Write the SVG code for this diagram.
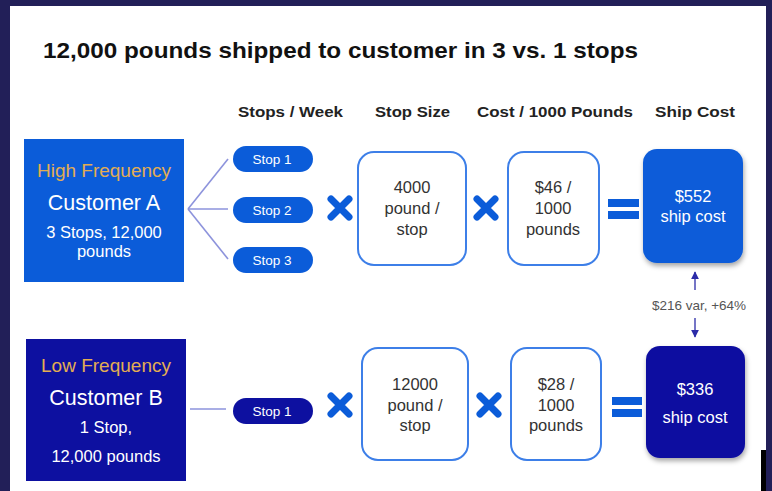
<svg xmlns="http://www.w3.org/2000/svg" width="772" height="491" viewBox="0 0 772 491">
<style>
  text { font-family: "Liberation Sans", Arial, sans-serif; }
  .title { font-size: 22px; font-weight: bold; fill: #111; }
  .hdr { font-size: 15.5px; font-weight: bold; fill: #222; text-anchor: middle; }
  .freq { font-size: 19px; fill: #e3ad52; text-anchor: middle; }
  .cust { font-size: 21.5px; fill: #fff; text-anchor: middle; }
  .sub { font-size: 16.5px; fill: #fff; text-anchor: middle; }
  .pill { font-size: 13.5px; fill: #fff; text-anchor: middle; }
  .val { font-size: 16.5px; fill: #333; text-anchor: middle; }
  .ship { font-size: 16.5px; fill: #fff; text-anchor: middle; }
  .var { font-size: 13.5px; fill: #555; text-anchor: middle; }
  .box { fill: #fff; stroke: #3d7fe8; stroke-width: 2; }
  .blue { fill: #0b5cd9; }
  .navy { fill: #0d10a0; }
  .xm { stroke: #0b5cd9; stroke-width: 7; stroke-linecap: round; fill: none; }
  .eq { fill: #0b5cd9; }
  .conn { stroke: #8d93dc; stroke-width: 1.6; fill: none; }
  .arr { stroke: #2b2ba8; stroke-width: 1.3; fill: none; }
</style>
<defs>
  <marker id="ah" viewBox="0 0 10 10" refX="9" refY="5" markerWidth="6" markerHeight="6" orient="auto-start-reverse">
    <path d="M0,0 L10,5 L0,10 z" fill="#2b2ba8"/>
  </marker>
  <filter id="sh" x="-20%" y="-20%" width="140%" height="140%">
    <feDropShadow dx="1" dy="3" stdDeviation="2.5" flood-color="#000" flood-opacity="0.35"/>
  </filter>
</defs>

<!-- background frame -->
<rect x="0" y="0" width="772" height="491" fill="#221f58"/>
<rect x="10" y="6" width="756" height="485" fill="#ffffff"/>
<rect x="761" y="450" width="5" height="41" fill="#000"/>

<text class="title" x="43" y="58" textLength="595" lengthAdjust="spacingAndGlyphs">12,000 pounds shipped to customer in 3 vs. 1 stops</text>

<g id="headers">
  <text class="hdr" x="290.5" y="117" textLength="105" lengthAdjust="spacingAndGlyphs">Stops / Week</text>
  <text class="hdr" x="412.5" y="117" textLength="75" lengthAdjust="spacingAndGlyphs">Stop Size</text>
  <text class="hdr" x="555" y="117" textLength="156" lengthAdjust="spacingAndGlyphs">Cost / 1000 Pounds</text>
  <text class="hdr" x="695" y="117" textLength="80" lengthAdjust="spacingAndGlyphs">Ship Cost</text>
</g>

<g id="connectors">
  <path class="conn" d="M188,209 L228,159"/>
  <path class="conn" d="M188,209 L228,209"/>
  <path class="conn" d="M188,209 L228,259"/>
  <path class="conn" d="M190,409 L226,409"/>
  <path class="arr" d="M695,290 L695,272" marker-end="url(#ah)"/>
  <path class="arr" d="M695,318 L695,337" marker-end="url(#ah)"/>
</g>

<g id="customerA">
  <rect class="blue" x="24" y="139" width="160" height="143"/>
  <text class="freq" x="104" y="177">High Frequency</text>
  <text class="cust" x="104" y="210">Customer A</text>
  <text class="sub" x="104" y="238">3 Stops, 12,000</text>
  <text class="sub" x="104" y="257">pounds</text>
</g>

<g id="stopA1"><rect class="blue" x="233" y="146" width="80" height="26" rx="13"/><text class="pill" x="272" y="164">Stop 1</text></g>
<g id="stopA2"><rect class="blue" x="233" y="197" width="80" height="26" rx="13"/><text class="pill" x="272" y="215">Stop 2</text></g>
<g id="stopA3"><rect class="blue" x="233" y="247" width="80" height="26" rx="13"/><text class="pill" x="272" y="265">Stop 3</text></g>

<g id="timesA1"><path class="xm" d="M331,199 L349,217 M349,199 L331,217"/></g>

<g id="sizeA">
  <rect class="box" x="358" y="152" width="108" height="113" rx="16"/>
  <text class="val" x="412" y="193">4000</text>
  <text class="val" x="412" y="214">pound /</text>
  <text class="val" x="412" y="235">stop</text>
</g>

<g id="timesA2"><path class="xm" d="M477,199 L495,217 M495,199 L477,217"/></g>

<g id="costA">
  <rect class="box" x="508" y="152" width="91" height="113" rx="16"/>
  <text class="val" x="553" y="193">$46 /</text>
  <text class="val" x="553" y="214">1000</text>
  <text class="val" x="553" y="235">pounds</text>
</g>

<g id="equalsA">
  <rect class="eq" x="608" y="199" width="31" height="8"/>
  <rect class="eq" x="608" y="211" width="31" height="8"/>
</g>

<g id="shipA">
  <rect class="blue" x="643" y="149" width="100" height="114" rx="14" filter="url(#sh)"/>
  <text class="ship" x="693" y="202">$552</text>
  <text class="ship" x="693" y="222">ship cost</text>
</g>

<g id="variance">
  <text class="var" x="699" y="310">$216 var, +64%</text>
</g>

<g id="customerB">
  <rect class="navy" x="26" y="339" width="160" height="142"/>
  <text class="freq" x="106" y="372">Low Frequency</text>
  <text class="cust" x="106" y="405">Customer B</text>
  <text class="sub" x="106" y="433">1 Stop,</text>
  <text class="sub" x="106" y="462">12,000 pounds</text>
</g>

<g id="stopB1"><rect class="navy" x="233" y="398" width="80" height="26" rx="13"/><text class="pill" x="272" y="416">Stop 1</text></g>

<g id="timesB1"><path class="xm" d="M331,396 L349,414 M349,396 L331,414"/></g>

<g id="sizeB">
  <rect class="box" x="362" y="348" width="106" height="112" rx="16"/>
  <text class="val" x="415" y="390">12000</text>
  <text class="val" x="415" y="411">pound /</text>
  <text class="val" x="415" y="431">stop</text>
</g>

<g id="timesB2"><path class="xm" d="M480,396 L498,414 M498,396 L480,414"/></g>

<g id="costB">
  <rect class="box" x="511" y="348" width="90" height="112" rx="16"/>
  <text class="val" x="556" y="390">$28 /</text>
  <text class="val" x="556" y="411">1000</text>
  <text class="val" x="556" y="431">pounds</text>
</g>

<g id="equalsB">
  <rect class="eq" x="612" y="397" width="30" height="8"/>
  <rect class="eq" x="612" y="409" width="30" height="8"/>
</g>

<g id="shipB">
  <rect class="navy" x="646" y="346" width="99" height="112" rx="14" filter="url(#sh)"/>
  <text class="ship" x="695" y="395">$336</text>
  <text class="ship" x="695" y="423">ship cost</text>
</g>
</svg>
